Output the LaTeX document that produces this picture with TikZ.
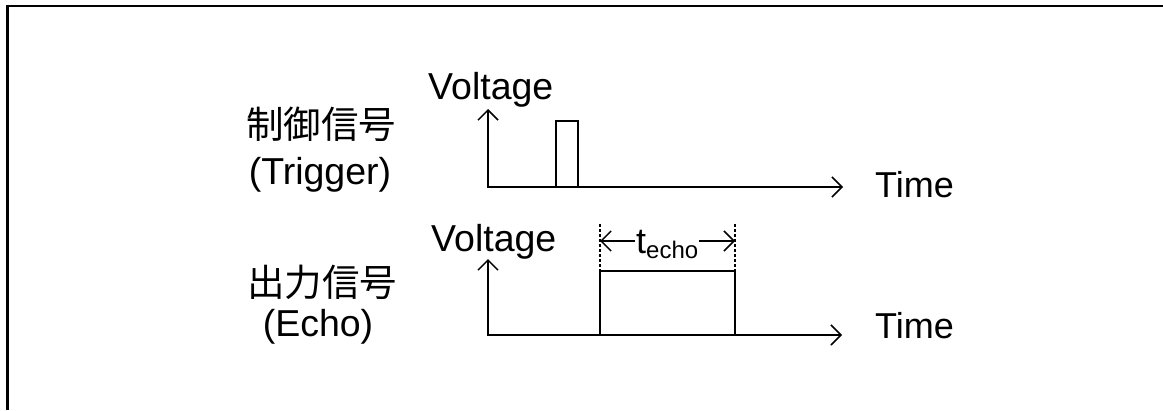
\documentclass[tikz,border=0pt]{standalone}
\usepackage{fontspec}
\setmainfont{Liberation Sans}
\newfontfamily\cjk{Noto Sans CJK JP}
\usetikzlibrary{arrows.meta}
\begin{document}
\begin{tikzpicture}[x=1pt,y=-1pt,
  lbl/.style={inner sep=0pt, font=\fontsize{37.5}{45}\selectfont},
  timelbl/.style={inner sep=0pt, font=\fontsize{36}{43}\selectfont},
  axisline/.style={line width=1.8pt, {Straight Barb[length=10pt,width=20pt,line width=1.5pt]}-{Straight Barb[length=10pt,width=20pt,line width=1.5pt]}},
  sig/.style={line width=2pt},
  guide/.style={line width=1.5pt, dash pattern=on 3pt off 2pt},
  dimarrow/.style={line width=1.8pt, -{Straight Barb[length=10pt,width=20pt,line width=1.5pt]}},
  frame/.style={line width=2.5pt}]
\useasboundingbox (0,0) rectangle (1163,410);
% frame
\draw[frame] (7.5,410) -- (7.5,6) -- (1163,6);
% labels
\node[lbl, anchor=base west] (v1) at (428,99) {Voltage};
\node[timelbl, anchor=base west] (t1) at (875,197) {Time};
\node[lbl, anchor=base west] (v2) at (431,251) {Voltage};
\node[timelbl, anchor=base west] (t2) at (875,338) {Time};
\node[lbl] (c1) at (321,124) {\cjk 制御信号};
\node[lbl] (e1) at (320,175) {(Trigger)};
\node[lbl] (c2) at (322,282) {\cjk 出力信号};
\node[lbl] (e2) at (318,327) {(Echo)};
% trigger axes
\coordinate (o1) at (488,187);
\coordinate (y1) at (488,109);
\coordinate (x1) at (843,187);
\draw[axisline] (y1) -- (o1) -- (x1);
\coordinate (p1a) at (556,187);
\coordinate (p1b) at (556,121);
\coordinate (p1c) at (578,121);
\coordinate (p1d) at (578,187);
\draw[sig] (p1a) -- (p1b) -- (p1c) -- (p1d);
% echo axes
\coordinate (o2) at (488,335);
\coordinate (y2) at (488,259);
\coordinate (x2) at (842,335);
\draw[axisline] (y2) -- (o2) -- (x2);
\coordinate (p2a) at (600,335);
\coordinate (p2b) at (600,271);
\coordinate (p2c) at (735,271);
\coordinate (p2d) at (735,335);
\draw[sig] (p2a) -- (p2b) -- (p2c) -- (p2d);
% guides
\coordinate (g1) at (600,224);
\coordinate (g2) at (735,224);
\draw[guide] (g1) -- (p2a);
\draw[guide] (g2) -- (p2d);
% t_echo
\node[inner sep=1pt, anchor=base west, font=\fontsize{36}{43}\selectfont] (te) at (635,253) {t\raisebox{-5pt}{\fontsize{24}{28}\selectfont echo}};
\coordinate (d1) at (600,241);
\coordinate (d2) at (735,241);
\draw[dimarrow] (te.west |- d1) -- (d1);
\draw[dimarrow] (te.east |- d2) -- (d2);
\end{tikzpicture}
\end{document}
